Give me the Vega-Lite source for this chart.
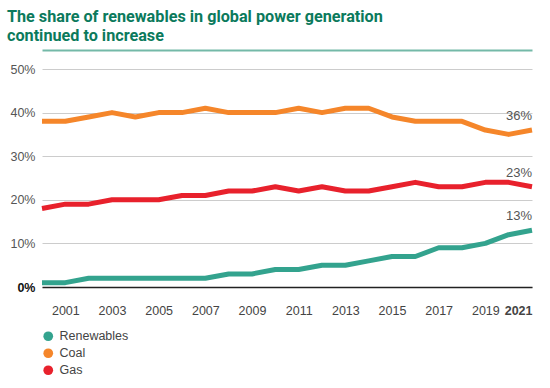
{
  "$schema": "https://vega.github.io/schema/vega-lite/v6.json",
  "autosize": "none",
  "width": 490,
  "height": 218,
  "padding": {"left": 42, "top": 69, "right": 18, "bottom": 101},
  "background": "white",
  "config": {
    "view": {"stroke": null},
    "font": "Liberation Sans"
  },
  "title": {
    "text": ["The share of renewables in global power generation", "continued to increase"],
    "anchor": "start",
    "frame": "group",
    "dx": -35,
    "offset": 6,
    "font": "Roboto",
    "fontSize": 16.2,
    "fontWeight": "bold",
    "color": "#0b7a5c",
    "lineHeight": 19
  },
  "data": {
    "values": [
      {"year": 2000, "source": "Renewables", "share": 1},
      {"year": 2001, "source": "Renewables", "share": 1},
      {"year": 2002, "source": "Renewables", "share": 2},
      {"year": 2003, "source": "Renewables", "share": 2},
      {"year": 2004, "source": "Renewables", "share": 2},
      {"year": 2005, "source": "Renewables", "share": 2},
      {"year": 2006, "source": "Renewables", "share": 2},
      {"year": 2007, "source": "Renewables", "share": 2},
      {"year": 2008, "source": "Renewables", "share": 3},
      {"year": 2009, "source": "Renewables", "share": 3},
      {"year": 2010, "source": "Renewables", "share": 4},
      {"year": 2011, "source": "Renewables", "share": 4},
      {"year": 2012, "source": "Renewables", "share": 5},
      {"year": 2013, "source": "Renewables", "share": 5},
      {"year": 2014, "source": "Renewables", "share": 6},
      {"year": 2015, "source": "Renewables", "share": 7},
      {"year": 2016, "source": "Renewables", "share": 7},
      {"year": 2017, "source": "Renewables", "share": 9},
      {"year": 2018, "source": "Renewables", "share": 9},
      {"year": 2019, "source": "Renewables", "share": 10},
      {"year": 2020, "source": "Renewables", "share": 12},
      {"year": 2021, "source": "Renewables", "share": 13},
      {"year": 2000, "source": "Coal", "share": 38},
      {"year": 2001, "source": "Coal", "share": 38},
      {"year": 2002, "source": "Coal", "share": 39},
      {"year": 2003, "source": "Coal", "share": 40},
      {"year": 2004, "source": "Coal", "share": 39},
      {"year": 2005, "source": "Coal", "share": 40},
      {"year": 2006, "source": "Coal", "share": 40},
      {"year": 2007, "source": "Coal", "share": 41},
      {"year": 2008, "source": "Coal", "share": 40},
      {"year": 2009, "source": "Coal", "share": 40},
      {"year": 2010, "source": "Coal", "share": 40},
      {"year": 2011, "source": "Coal", "share": 41},
      {"year": 2012, "source": "Coal", "share": 40},
      {"year": 2013, "source": "Coal", "share": 41},
      {"year": 2014, "source": "Coal", "share": 41},
      {"year": 2015, "source": "Coal", "share": 39},
      {"year": 2016, "source": "Coal", "share": 38},
      {"year": 2017, "source": "Coal", "share": 38},
      {"year": 2018, "source": "Coal", "share": 38},
      {"year": 2019, "source": "Coal", "share": 36},
      {"year": 2020, "source": "Coal", "share": 35},
      {"year": 2021, "source": "Coal", "share": 36},
      {"year": 2000, "source": "Gas", "share": 18},
      {"year": 2001, "source": "Gas", "share": 19},
      {"year": 2002, "source": "Gas", "share": 19},
      {"year": 2003, "source": "Gas", "share": 20},
      {"year": 2004, "source": "Gas", "share": 20},
      {"year": 2005, "source": "Gas", "share": 20},
      {"year": 2006, "source": "Gas", "share": 21},
      {"year": 2007, "source": "Gas", "share": 21},
      {"year": 2008, "source": "Gas", "share": 22},
      {"year": 2009, "source": "Gas", "share": 22},
      {"year": 2010, "source": "Gas", "share": 23},
      {"year": 2011, "source": "Gas", "share": 22},
      {"year": 2012, "source": "Gas", "share": 23},
      {"year": 2013, "source": "Gas", "share": 22},
      {"year": 2014, "source": "Gas", "share": 22},
      {"year": 2015, "source": "Gas", "share": 23},
      {"year": 2016, "source": "Gas", "share": 24},
      {"year": 2017, "source": "Gas", "share": 23},
      {"year": 2018, "source": "Gas", "share": 23},
      {"year": 2019, "source": "Gas", "share": 24},
      {"year": 2020, "source": "Gas", "share": 24},
      {"year": 2021, "source": "Gas", "share": 23}
    ]
  },
  "encoding": {
    "y": {
      "field": "share",
      "type": "quantitative",
      "scale": {"domain": [0, 50], "nice": false},
      "axis": {
        "title": null,
        "values": [0, 10, 20, 30, 40, 50],
        "labelExpr": "datum.value + '%'",
        "grid": true,
        "gridColor": "#cccccc",
        "gridWidth": 1,
        "domain": false,
        "ticks": false,
        "labelPadding": 7,
        "labelFontSize": 12.5,
        "labelColor": {"expr": "datum.value == 0 ? '#111111' : '#555555'"},
        "labelFontWeight": {"expr": "datum.value == 0 ? 'bold' : 'normal'"}
      }
    }
  },
  "layer": [
    {
      "mark": {"type": "line", "strokeWidth": 5, "strokeJoin": "round"},
      "encoding": {
        "x": {
          "field": "year",
          "type": "quantitative",
          "scale": {"domain": [2000, 2021], "nice": false, "zero": false},
          "axis": {
            "title": null,
            "values": [2001, 2003, 2005, 2007, 2009, 2011, 2013, 2015, 2017, 2019, 2021],
            "format": "d",
            "grid": false,
            "ticks": false,
            "domain": true,
            "domainColor": "#222222",
            "domainWidth": 1.5,
            "labelPadding": 17,
            "labelFontSize": 12.5,
            "labelColor": "#444444",
            "labelFlush": false,
            "labelAlign": {"expr": "datum.value == 2021 ? 'right' : 'center'"},
            "labelFontWeight": {"expr": "datum.value == 2021 ? 'bold' : 'normal'"},
            "labelOverlap": false
          }
        },
        "color": {
          "field": "source",
          "type": "nominal",
          "scale": {"domain": ["Renewables", "Coal", "Gas"], "range": ["#33a38e", "#f5862a", "#e8212c"]},
          "legend": {
            "title": null,
            "orient": "none",
            "legendX": 0,
            "legendY": 261,
            "padding": 0,
            "symbolType": "circle",
            "symbolSize": 95,
            "symbolStrokeWidth": 0,
            "symbolOpacity": 1,
            "labelFontSize": 12.5,
            "labelColor": "#444444",
            "labelOffset": 5,
            "rowPadding": 4,
            "encode": {
              "symbols": {"update": {"fill": {"scale": "color", "field": "value"}, "strokeWidth": {"value": 0}}}
            }
          }
        }
      }
    },
    {
      "transform": [
        {"filter": "datum.year == 2021"},
        {"calculate": "datum.share + '%'", "as": "label"}
      ],
      "mark": {"type": "text", "align": "right", "baseline": "bottom", "dy": -7, "fontSize": 13, "color": "#555555"},
      "encoding": {
        "x": {
          "field": "year",
          "type": "quantitative",
          "scale": {"domain": [2000, 2021], "nice": false, "zero": false},
          "axis": {
            "title": null,
            "orient": "top",
            "labels": false,
            "ticks": false,
            "grid": false,
            "domain": true,
            "domainColor": "#74b9a8",
            "domainWidth": 2,
            "offset": 19
          }
        },
        "text": {"field": "label", "type": "nominal"}
      }
    }
  ],
  "resolve": {"axis": {"x": "independent"}}
}
